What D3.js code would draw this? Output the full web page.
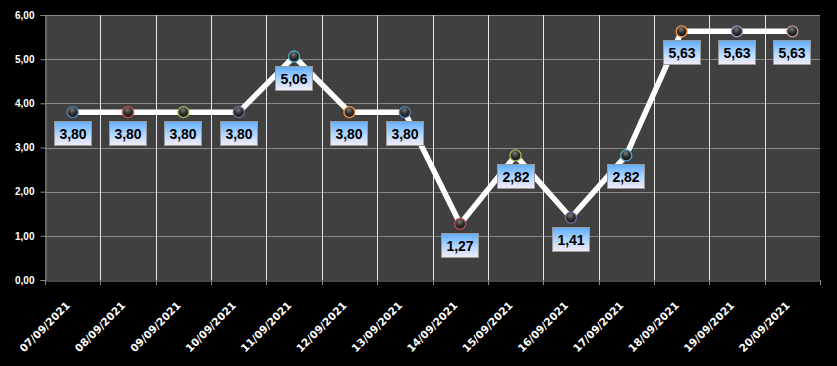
<!DOCTYPE html>
<html>
<head>
<meta charset="utf-8">
<script src="https://cdnjs.cloudflare.com/ajax/libs/d3/7.8.5/d3.min.js"></script>
<style>
    html, body { margin: 0; padding: 0; background: #000; }
    svg { display: block; }
</style>
</head>
<body>
<div id="chart"></div>
<script>
// Data
var dates = ["07/09/2021", "08/09/2021", "09/09/2021", "10/09/2021", "11/09/2021",
             "12/09/2021", "13/09/2021", "14/09/2021", "15/09/2021", "16/09/2021",
             "17/09/2021", "18/09/2021", "19/09/2021", "20/09/2021"];
var values = [3.80, 3.80, 3.80, 3.80, 5.06, 3.80, 3.80, 1.27, 2.82, 1.41, 2.82, 5.63, 5.63, 5.63];
var yTicks = [0, 1, 2, 3, 4, 5, 6];

// marker outline colours (vary by point)
var markerColors = ["#4f81bd", "#c0504d", "#9bbb59", "#8064a2", "#4bacc6", "#f79646", "#4f81bd",
                    "#c0504d", "#9bbb59", "#8064a2", "#4bacc6", "#f79646", "#8d9fc4", "#c49a98"];

var width = 837, height = 366;
var margin = {top: 15, right: 17, bottom: 86, left: 45};

var fmt = function(v) { return d3.format(".2f")(v).replace(".", ","); };

var svg = d3.select("#chart").append("svg")
    .attr("width", width)
    .attr("height", height)
    .style("background", "#000");

var defs = svg.append("defs");

// label box gradient
var lg = defs.append("linearGradient").attr("id", "lblGrad")
    .attr("x1", 0).attr("y1", 0).attr("x2", 0).attr("y2", 1);
lg.append("stop").attr("offset", "0%").attr("stop-color", "#5eacff");
lg.append("stop").attr("offset", "55%").attr("stop-color", "#b4d8ff");
lg.append("stop").attr("offset", "100%").attr("stop-color", "#f6ecf6");

// marker sphere
var rg = defs.append("radialGradient").attr("id", "ball")
    .attr("cx", "45%").attr("cy", "30%").attr("r", "65%");
rg.append("stop").attr("offset", "0%").attr("stop-color", "#7a7a7a");
rg.append("stop").attr("offset", "55%").attr("stop-color", "#303030");
rg.append("stop").attr("offset", "100%").attr("stop-color", "#151515");

var x = d3.scaleBand()
    .domain(dates)
    .range([margin.left, width - margin.right])
    .padding(0);

var y = d3.scaleLinear()
    .domain([0, 6])
    .range([height - margin.bottom, margin.top]);

var cx = function(d) { return x(d) + x.bandwidth() / 2; };

// plot area
svg.append("rect")
    .attr("x", margin.left)
    .attr("y", margin.top)
    .attr("width", width - margin.left - margin.right)
    .attr("height", height - margin.top - margin.bottom)
    .attr("fill", "#404040");

// horizontal grid
svg.append("g").selectAll("line")
    .data(yTicks.slice(1))
    .enter().append("line")
    .attr("x1", margin.left).attr("x2", width - margin.right)
    .attr("y1", function(d) { return Math.round(y(d)) + 0.5; })
    .attr("y2", function(d) { return Math.round(y(d)) + 0.5; })
    .attr("stroke", "#8a8a8a");

// vertical grid (category boundaries)
svg.append("g").selectAll("line")
    .data(dates.slice(1))
    .enter().append("line")
    .attr("x1", function(d) { return Math.round(x(d)) + 0.5; })
    .attr("x2", function(d) { return Math.round(x(d)) + 0.5; })
    .attr("y1", margin.top).attr("y2", height - margin.bottom)
    .attr("stroke", "#e8e8e8");

// y axis
var yAxis = svg.append("g")
    .attr("transform", "translate(" + (margin.left + 0.5) + ",0)")
    .call(d3.axisLeft(y).tickValues(yTicks).tickFormat(fmt).tickSize(5).tickPadding(6));
yAxis.select(".domain").attr("stroke", "#8a8a8a");
yAxis.selectAll(".tick line").attr("stroke", "#8a8a8a");
yAxis.selectAll("text")
    .attr("fill", "#fff")
    .style("font", "bold 10px 'Liberation Sans', Arial, sans-serif");

// x axis
var xAxis = svg.append("g")
    .attr("transform", "translate(0," + (Math.round(y(0)) + 0.5) + ")")
    .call(d3.axisBottom(x).tickSize(0).tickFormat(""));
xAxis.select(".domain").attr("stroke", "#8a8a8a");

// tick marks at category boundaries
svg.append("g").selectAll("line")
    .data(dates.concat(["end"]))
    .enter().append("line")
    .attr("x1", function(d, i) { return Math.round(margin.left + i * x.bandwidth()) + 0.5; })
    .attr("x2", function(d, i) { return Math.round(margin.left + i * x.bandwidth()) + 0.5; })
    .attr("y1", Math.round(y(0))).attr("y2", Math.round(y(0)) + 5)
    .attr("stroke", "#8a8a8a");

// rotated date labels
svg.append("g").selectAll("text")
    .data(dates)
    .enter().append("text")
    .attr("transform", function(d) { return "translate(" + (cx(d) - 2) + "," + (y(0) + 26) + ") rotate(-45)"; })
    .attr("text-anchor", "end")
    .attr("fill", "#fff")
    .style("font", "bold 10.5px 'DejaVu Sans', Tahoma, sans-serif")
    .text(function(d) { return d; });

// line
var line = d3.line()
    .x(function(d, i) { return cx(dates[i]); })
    .y(function(d) { return y(d); });

svg.append("path")
    .datum(values)
    .attr("d", line)
    .attr("fill", "none")
    .attr("stroke", "#fff")
    .attr("stroke-width", 5.5)
    .attr("stroke-linejoin", "round");

// markers
svg.append("g").selectAll("circle")
    .data(values)
    .enter().append("circle")
    .attr("cx", function(d, i) { return cx(dates[i]); })
    .attr("cy", function(d) { return y(d); })
    .attr("r", 5.5)
    .attr("fill", "url(#ball)")
    .attr("stroke", function(d, i) { return markerColors[i]; })
    .attr("stroke-width", 1.3);

// data labels
var lbl = svg.append("g").selectAll("g")
    .data(values)
    .enter().append("g")
    .attr("transform", function(d, i) { return "translate(" + Math.round(cx(dates[i])) + "," + Math.round(y(d) + 9) + ")"; });

lbl.append("rect")
    .attr("x", -18.5).attr("y", 0.5)
    .attr("width", 37).attr("height", 24)
    .attr("fill", "url(#lblGrad)")
    .attr("stroke", "#9a9a9a");

lbl.append("text")
    .attr("x", 0).attr("y", 18)
    .attr("text-anchor", "middle")
    .attr("fill", "#000")
    .style("font", "bold 14px 'Liberation Sans', Arial, sans-serif")
    .text(function(d) { return fmt(d); });
</script>
</body>
</html>
